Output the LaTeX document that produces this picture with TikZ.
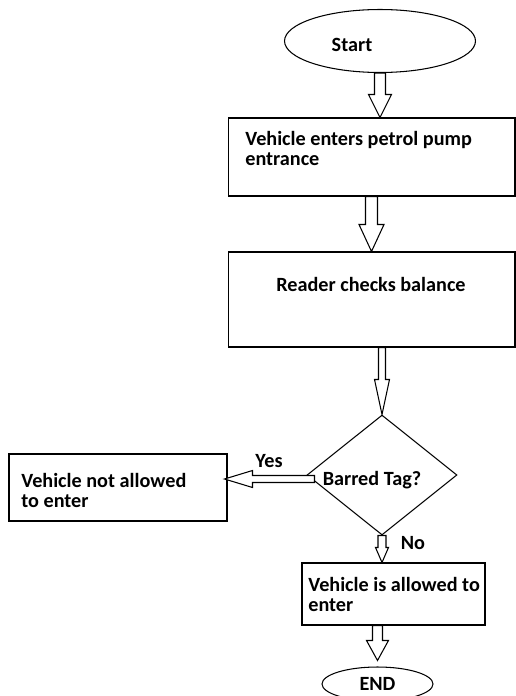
\documentclass[tikz,border=0pt]{standalone}
\usepackage{fontspec}
\setmainfont{Carlito}
\usetikzlibrary{shapes.geometric,positioning,calc}

\tikzset{
  box/.style={draw, line width=0.6pt, rectangle, inner sep=0pt},
  term/.style={draw, line width=0.6pt, ellipse, inner sep=0pt},
  decision/.style={draw, line width=0.6pt, diamond, inner sep=0pt},
  txt/.style={font=\fontsize{11.5}{11.6}\selectfont\bfseries, inner sep=0pt, align=left},
  fatarrow/.style={draw, line width=0.6pt, fill=white, line join=miter}
}

% hollow block arrow: from, to, shaft half width, head half width, head length
\newcommand{\blockarrow}[5]{%
  \path (#1) coordinate (ba0) (#2) coordinate (ba1);
  \path ($(ba1)!#5!(ba0)$) coordinate (bah);
  \draw[fatarrow] ($(ba0)!#3!90:(ba1)$) -- ($(bah)!#3!90:(ba1)$) -- ($(bah)!#4!90:(ba1)$) -- (ba1)
    -- ($(bah)!#4!-90:(ba1)$) -- ($(bah)!#3!-90:(ba1)$) -- ($(ba0)!#3!-90:(ba1)$) -- cycle;
}

\begin{document}
\begin{tikzpicture}[x=0.02cm, y=-0.02cm]
    \useasboundingbox (0,0) rectangle (516,696);
    \clip (0,0) rectangle (516,696);

    % Shapes
    \node[term, minimum width=3.82cm, minimum height=1.26cm] (start) at (380,41) {};
    \node[box, minimum width=5.74cm, minimum height=1.56cm] (box1) at (371.5,157) {};
    \node[box, minimum width=5.74cm, minimum height=1.9cm] (box2) at (371.5,299.5) {};
    \node[decision, minimum width=3cm, minimum height=2.4cm] (dec) at (382,475) {};
    \node[box, minimum width=4.36cm, minimum height=1.34cm] (deny) at (118,487.5) {};
    \node[box, minimum width=3.66cm, minimum height=1.24cm] (allow) at (393.5,594) {};
    \node[term, minimum width=2.22cm, minimum height=0.68cm, txt] (stop) at (377.5,684) {END};

    % Texts
    \node[txt] (starttxt) at (352,45) {Start};
    \node[txt, anchor=north west] (box1txt) at (245,131) {Vehicle enters petrol pump\\entrance};
    \node[txt, anchor=base] (box2txt) at (371,291) {Reader checks balance};
    \node[txt, anchor=base] (dectxt) at (372,485) {Barred Tag?};
    \node[txt, anchor=north west] (denytxt) at (21,473) {Vehicle not allowed\\to enter};
    \node[txt, anchor=north west] (allowtxt) at (308,577) {Vehicle is allowed to\\enter};
    \node[txt, anchor=base] (yes) at (269,467) {Yes};
    \node[txt, anchor=base] (no) at (413,549) {No};

    % Arrows
    \blockarrow{start.south}{start.south |- box1.north}{0.11cm}{0.23cm}{0.46cm}
    \blockarrow{box1.south}{box2.north}{0.12cm}{0.25cm}{0.54cm}
    \blockarrow{dec.north |- box2.south}{dec.north}{0.07cm}{0.15cm}{0.7cm}
    \blockarrow{$(dec.west)+(8,4)$}{$(deny.east)+(-3,-8.5)$}{0.07cm}{0.17cm}{0.56cm}
    \blockarrow{dec.south}{dec.south |- allow.north}{0.08cm}{0.13cm}{0.3cm}
    \blockarrow{stop.north |- allow.south}{$(stop.north)+(0,-6)$}{0.1cm}{0.22cm}{0.4cm}
\end{tikzpicture}
\end{document}
